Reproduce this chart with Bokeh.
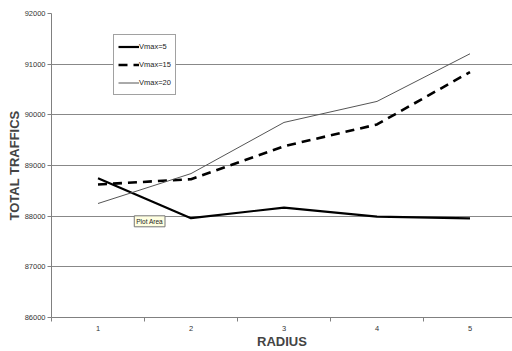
from bokeh.plotting import figure
from bokeh.models import FixedTicker, Range1d, Legend, LegendItem, Label
from bokeh.embed import file_html
from bokeh.resources import INLINE

radius = [1, 2, 3, 4, 5]
vmax5 = [88750, 87960, 88170, 87990, 87955]
vmax15 = [88625, 88730, 89380, 89810, 90845]
vmax20 = [88250, 88840, 89850, 90265, 91205]
series_names = ["Vmax=5", "Vmax=15", "Vmax=20"]
y_ticks = [86000, 87000, 88000, 89000, 90000, 91000, 92000]

FONT = "Liberation Sans"

p = figure(width=512, height=351, output_backend="svg", toolbar_location=None,
           x_range=Range1d(0.5, 5.457), y_range=Range1d(86000, 92000),
           min_border_left=51, min_border_right=0, min_border_top=13, min_border_bottom=33)
p.outline_line_color = None
p.background_fill_color = "white"

r1 = p.line(radius, vmax5, line_color="black", line_width=2.2)
r2 = p.line(radius, vmax15, line_color="black", line_width=2.6, line_dash="9 6")
r3 = p.line(radius, vmax20, line_color="#555555", line_width=1)

# axes
p.xaxis.ticker = FixedTicker(ticks=radius, minor_ticks=[0.5, 1.5, 2.5, 3.5, 4.5, 5.5])
p.xaxis.major_tick_line_color = None
p.xaxis.major_tick_out = 0
p.xaxis.major_tick_in = 0
p.xaxis.minor_tick_out = 4
p.xaxis.minor_tick_in = 0
p.xaxis.minor_tick_line_color = "#808080"
p.xaxis.axis_line_color = "#808080"
p.xaxis.major_label_text_font = FONT
p.xaxis.major_label_text_font_size = "7.5px"
p.xaxis.major_label_text_color = "#333333"
p.xaxis.major_label_standoff = 4
p.xaxis.axis_label = "RADIUS"
p.xaxis.axis_label_text_font = FONT
p.xaxis.axis_label_text_font_style = "bold"
p.xaxis.axis_label_text_font_size = "13px"
p.xaxis.axis_label_standoff = 0

p.yaxis.ticker = FixedTicker(ticks=y_ticks)
p.yaxis.minor_tick_line_color = None
p.yaxis.major_tick_out = 4
p.yaxis.major_tick_in = 0
p.yaxis.major_tick_line_color = "#808080"
p.yaxis.axis_line_color = "#808080"
p.yaxis.major_label_text_font = FONT
p.yaxis.major_label_text_font_size = "7.5px"
p.yaxis.major_label_text_color = "#333333"
p.yaxis.major_label_standoff = 2
p.yaxis.axis_label = "TOTAL TRAFFICS"
p.yaxis.axis_label_text_font = FONT
p.yaxis.axis_label_text_font_style = "bold"
p.yaxis.axis_label_text_font_size = "13px"
p.yaxis.axis_label_standoff = 0

p.xgrid.grid_line_color = None
p.ygrid.grid_line_color = "#888888"
p.ygrid.grid_line_width = 1

legend = Legend(items=[LegendItem(label=series_names[0], renderers=[r1]),
                       LegendItem(label=series_names[1], renderers=[r2]),
                       LegendItem(label=series_names[2], renderers=[r3])],
                location=(62, 222))
legend.label_text_font = FONT
legend.label_text_font_size = "7.5px"
legend.label_text_color = "#222222"
legend.glyph_width = 21
legend.glyph_height = 15
legend.label_height = 15
legend.label_standoff = 0
legend.spacing = 3
legend.padding = 4
legend.margin = 0
legend.border_line_color = "#444444"
legend.border_line_width = 1
legend.background_fill_color = "white"
legend.background_fill_alpha = 1
p.add_layout(legend)

tip = Label(x=1.39, y=87790, text="Plot Area", text_font=FONT, text_font_size="6.5px",
            text_color="#222222", background_fill_color="#ffffe1",
            border_line_color="#777777", padding=2)
p.add_layout(tip)

open("out.html", "w").write(file_html(p, INLINE))
